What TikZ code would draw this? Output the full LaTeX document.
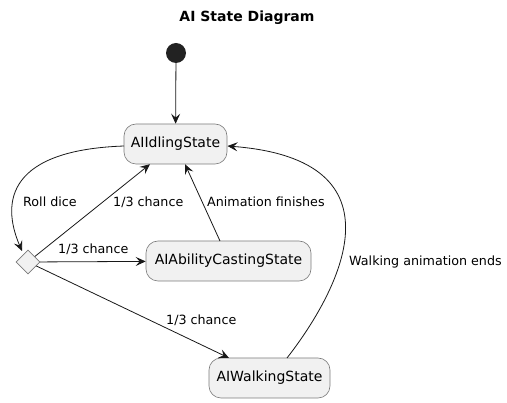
\documentclass[tikz,border=0pt]{standalone}
\usepackage{fontspec}
\setmainfont{DejaVu Sans}
\usetikzlibrary{arrows.meta,shapes.geometric}
\definecolor{linec}{HTML}{181818}
\definecolor{startc}{HTML}{222222}
\definecolor{boxfill}{HTML}{F1F1F1}
\definecolor{boxdraw}{HTML}{7A7A7A}
\tikzset{
  statebox/.style={draw=boxdraw, fill=boxfill, rounded corners=12pt, line width=0.6pt, inner sep=0pt, font=\fontsize{14}{16}\selectfont},
  conn/.style={draw=linec, line width=0.8pt, -{Stealth[length=10pt,width=9pt,inset=4pt]}},
  lbl/.style={font=\fontsize{12.7}{15}\selectfont, text=black, inner sep=0pt, anchor=west},
}
\begin{document}
\begin{tikzpicture}[x=1pt,y=-1pt]
\useasboundingbox (0,0) rectangle (507,403);
\node[font=\bfseries\fontsize{14}{16}\selectfont] (title) at (247,18) {AI State Diagram};
\node[circle, fill=startc, minimum size=20pt, inner sep=0pt] (start) at (176,53) {};
\node[statebox, minimum width=103pt, minimum height=40pt] (idle) at (175.5,144) {AIIdlingState};
\node[diamond, draw=boxdraw, fill=boxfill, line width=0.6pt, minimum width=24pt, minimum height=24pt, inner sep=0pt] (dec) at (28,262) {};
\node[statebox, minimum width=165pt, minimum height=40pt] (cast) at (228.5,261) {AIAbilityCastingState};
\node[statebox, minimum width=121pt, minimum height=40pt] (walk) at (269.5,378) {AIWalkingState};
\coordinate (idleL) at (124,146);
\coordinate (idleR) at (227.5,146);
\coordinate (decT) at (22,251);
\draw[conn] (start) -- (idle);
\draw[conn] (idleL) .. controls (10,150) and (0,200) .. (decT);
\draw[conn] (dec) -- (150,164.2);
\draw[conn] (dec) -- (cast);
\draw[conn] (dec) -- (229,358);
\draw[conn] (220,241) -- (185,164.2);
\draw[conn] (287,358) .. controls (340,290) and (408,160) .. (idleR);
\node[lbl] (l1) at (23,202) {Roll dice};
\node[lbl] (l2) at (113,202) {1/3 chance};
\node[lbl] (l3) at (207,202) {Animation finishes};
\node[lbl] (l4) at (58,249) {1/3 chance};
\node[lbl] (l5) at (166,320) {1/3 chance};
\node[lbl] (l6) at (349,262) {Walking animation ends};
\end{tikzpicture}
\end{document}
